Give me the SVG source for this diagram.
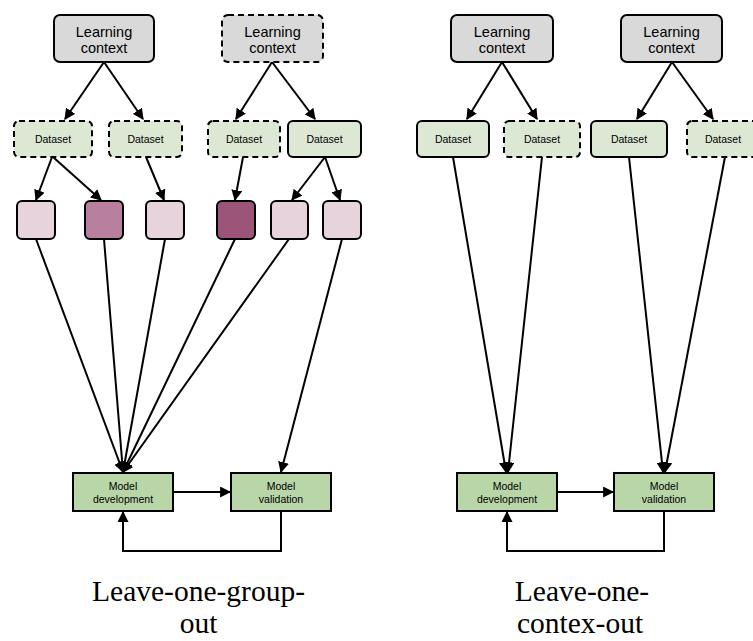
<svg xmlns="http://www.w3.org/2000/svg" width="753" height="641" viewBox="0 0 753 641">
<style>
.lc{fill:#d9d9d9;stroke:#000;stroke-width:2}
.ds{fill:#dde8d4;stroke:#000;stroke-width:2}
.dash{stroke-dasharray:6,4}
.sq{stroke:#000;stroke-width:2}
.md{fill:#b9d6a9;stroke:#000;stroke-width:2}
.t14{font-family:"Liberation Sans",Arial,sans-serif;font-size:14.5px;text-anchor:middle;fill:#000}
.t10{font-family:"Liberation Sans",Arial,sans-serif;font-size:10.5px;text-anchor:middle;fill:#000}
.ttl{font-family:"Liberation Serif","Times New Roman",serif;font-size:29.5px;text-anchor:middle;fill:#000}
.c{stroke:#000;stroke-width:2;fill:none;marker-end:url(#ah)}
</style>
<defs>
<marker id="ah" viewBox="0 0 10 10" refX="9" refY="5" markerWidth="5.5" markerHeight="5.5" orient="auto" markerUnits="strokeWidth">
<path d="M0,0 L10,5 L0,10 z" fill="#000"/>
</marker>
</defs>
<rect width="753" height="641" fill="#fff"/>
<g id="connectors">
<line class="c" x1="104" y1="62" x2="65" y2="119"/>
<line class="c" x1="104" y1="62" x2="143" y2="119"/>
<line class="c" x1="272" y1="62" x2="236" y2="119"/>
<line class="c" x1="272" y1="62" x2="315" y2="119"/>
<line class="c" x1="52" y1="157" x2="36" y2="200"/>
<line class="c" x1="53" y1="157" x2="101" y2="200"/>
<line class="c" x1="146" y1="157" x2="164" y2="200"/>
<line class="c" x1="243" y1="157" x2="235" y2="200"/>
<line class="c" x1="325" y1="157" x2="292" y2="200"/>
<line class="c" x1="325" y1="157" x2="340" y2="200"/>
<line class="c" x1="36" y1="239" x2="123" y2="472"/>
<line class="c" x1="104" y1="239" x2="123" y2="472"/>
<line class="c" x1="165" y1="239" x2="123" y2="472"/>
<line class="c" x1="235" y1="239" x2="123" y2="472"/>
<line class="c" x1="289" y1="239" x2="123" y2="472"/>
<line class="c" x1="342" y1="239" x2="281" y2="472"/>
<line class="c" x1="173" y1="492" x2="230" y2="492"/>
<polyline class="c" points="281,511 281,551 123,551 123,512"/>
<line class="c" x1="502" y1="62" x2="467" y2="119"/>
<line class="c" x1="502" y1="62" x2="537" y2="119"/>
<line class="c" x1="672" y1="62" x2="637" y2="119"/>
<line class="c" x1="672" y1="62" x2="713" y2="119"/>
<line class="c" x1="453" y1="157" x2="506" y2="472"/>
<line class="c" x1="542" y1="157" x2="508" y2="472"/>
<line class="c" x1="629" y1="157" x2="663" y2="472"/>
<line class="c" x1="725" y1="157" x2="665" y2="472"/>
<line class="c" x1="557" y1="492" x2="613" y2="492"/>
<polyline class="c" points="664,511 664,551 507,551 507,512"/>
</g>
<g id="lc1"><rect class="lc" x="54" y="15" width="100" height="47" rx="6"/><text class="t14" x="104" y="37">Learning</text><text class="t14" x="104" y="53">context</text></g>
<g id="lc2"><rect class="lc dash" x="222" y="15" width="101" height="47" rx="6"/><text class="t14" x="272.5" y="37">Learning</text><text class="t14" x="272.5" y="53">context</text></g>
<g id="lc3"><rect class="lc" x="451" y="15" width="102" height="47" rx="6"/><text class="t14" x="502" y="37">Learning</text><text class="t14" x="502" y="53">context</text></g>
<g id="lc4"><rect class="lc" x="621" y="15" width="101" height="47" rx="6"/><text class="t14" x="671.5" y="37">Learning</text><text class="t14" x="671.5" y="53">context</text></g>
<g id="d1"><rect class="ds dash" x="14" y="121" width="78" height="36" rx="5"/><text class="t10" x="53" y="143">Dataset</text></g>
<g id="d2"><rect class="ds dash" x="109" y="121" width="73" height="36" rx="5"/><text class="t10" x="145.5" y="143">Dataset</text></g>
<g id="d3"><rect class="ds dash" x="208" y="121" width="72" height="36" rx="5"/><text class="t10" x="244" y="143">Dataset</text></g>
<g id="d4"><rect class="ds" x="288" y="121" width="73" height="36" rx="5"/><text class="t10" x="324.5" y="143">Dataset</text></g>
<g id="d5"><rect class="ds" x="417" y="121" width="72" height="36" rx="5"/><text class="t10" x="453" y="143">Dataset</text></g>
<g id="d6"><rect class="ds dash" x="504" y="121" width="76" height="36" rx="5"/><text class="t10" x="542" y="143">Dataset</text></g>
<g id="d7"><rect class="ds" x="591" y="121" width="76" height="36" rx="5"/><text class="t10" x="629" y="143">Dataset</text></g>
<g id="d8"><rect class="ds dash" x="687" y="121" width="72" height="36" rx="5"/><text class="t10" x="723" y="143">Dataset</text></g>
<g id="s1"><rect class="sq" x="17" y="201" width="38" height="38" rx="5" fill="#e7d3dc"/></g>
<g id="s2"><rect class="sq" x="85" y="201" width="38" height="38" rx="5" fill="#b97f9e"/></g>
<g id="s3"><rect class="sq" x="146" y="201" width="38" height="38" rx="5" fill="#e7d3dc"/></g>
<g id="s4"><rect class="sq" x="217" y="201" width="38" height="38" rx="5" fill="#9c5578"/></g>
<g id="s5"><rect class="sq" x="271" y="201" width="37" height="38" rx="5" fill="#e7d3dc"/></g>
<g id="s6"><rect class="sq" x="323" y="201" width="38" height="38" rx="5" fill="#e7d3dc"/></g>
<g id="md1"><rect class="md" x="73" y="473" width="100" height="38"/><text class="t10" x="123" y="490">Model</text><text class="t10" x="123" y="503">development</text></g>
<g id="mv1"><rect class="md" x="231" y="473" width="100" height="38"/><text class="t10" x="281" y="490">Model</text><text class="t10" x="281" y="503">validation</text></g>
<g id="md2"><rect class="md" x="457" y="473" width="100" height="38"/><text class="t10" x="507" y="490">Model</text><text class="t10" x="507" y="503">development</text></g>
<g id="mv2"><rect class="md" x="614" y="473" width="100" height="38"/><text class="t10" x="664" y="490">Model</text><text class="t10" x="664" y="503">validation</text></g>
<g id="title1"><text class="ttl" x="198.5" y="601">Leave-one-group-</text><text class="ttl" x="198.5" y="633">out</text></g>
<g id="title2"><text class="ttl" x="582" y="601">Leave-one-</text><text class="ttl" x="580" y="633">contex-out</text></g>
</svg>
